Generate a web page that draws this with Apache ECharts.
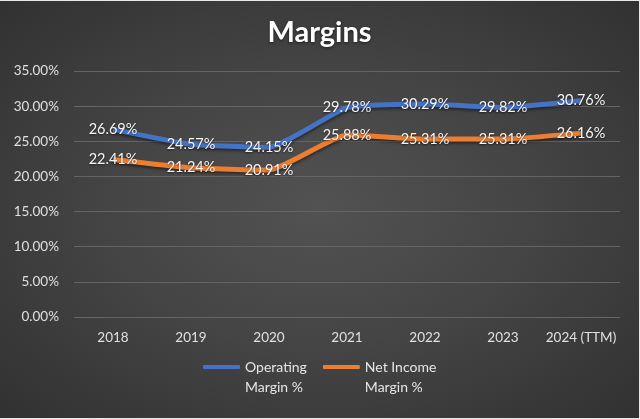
<!DOCTYPE html>
<html>
<head>
<meta charset="utf-8">
<script src="https://cdn.jsdelivr.net/npm/echarts@6/dist/echarts.min.js"></script>
<style>
html,body{margin:0;padding:0;background:#e8e8e8;}
#wrap{position:absolute;left:0;top:1px;width:639px;height:417px;
background:radial-gradient(ellipse at 50% 50%, #525252 0%, #454545 45%, #313131 100%);}
#chart{width:639px;height:417px;}
</style>
</head>
<body>
<div id="wrap"><div id="chart"></div></div>
<script>
const categories = ['2018','2019','2020','2021','2022','2023','2024 (TTM)'];
const operatingMargin = [26.69, 24.57, 24.15, 29.78, 30.29, 29.82, 30.76];
const netIncomeMargin = [22.41, 21.24, 20.91, 25.88, 25.31, 25.31, 26.16];
const seriesNames = ['Operating Margin %', 'Net Income Margin %'];
const legendLabels = {'Operating Margin %': ' \nOperating\nMargin %', 'Net Income Margin %': ' \nNet Income\nMargin %'};

const font = 'Lato, "Open Sans", sans-serif';
const chart = echarts.init(document.getElementById('chart'));
const labelCfg = {
  show: true,
  position: 'inside',
  formatter: p => p.value.toFixed(2) + '%',
  color: '#f5f5f5',
  fontSize: 14.5,
  fontFamily: font,
  textShadowColor: 'rgba(0,0,0,0.5)',
  textShadowBlur: 2,
  textShadowOffsetY: 1
};
function mk(name, data, color) {
  return {
    name: name,
    type: 'line',
    data: data,
    symbol: 'circle',
    symbolSize: 0.1,
    showSymbol: true,
    smooth: 0.15,
    lineStyle: {width: 5, color: color, shadowColor: 'rgba(0,0,0,0.45)', shadowBlur: 3, shadowOffsetY: 2},
    itemStyle: {color: color},
    label: labelCfg,
    labelLayout: {hideOverlap: false},
    emphasis: {disabled: true}
  };
}
chart.setOption({
  animation: false,
  backgroundColor: 'transparent',
  title: {
    text: 'Margins', left: 'center', top: 12,
    textStyle: {color: '#ffffff', fontSize: 29, fontWeight: 'bold', fontFamily: font,
      textShadowColor: 'rgba(0,0,0,0.6)', textShadowBlur: 3, textShadowOffsetY: 1}
  },
  grid: {left: 74, right: 19, top: 70, bottom: 101},
  legend: {
    top: 336, left: 203, padding: 0,
    itemWidth: 37, itemHeight: 4, itemGap: 16,
    icon: 'roundRect',
    formatter: n => legendLabels[n],
    textStyle: {color: '#e6e6e6', fontSize: 14, fontFamily: font, lineHeight: 20},
    data: seriesNames
  },
  xAxis: {
    type: 'category', data: categories, boundaryGap: true,
    axisLine: {show: false}, axisTick: {show: false},
    axisLabel: {color: '#e0e0e0', fontSize: 13.5, fontFamily: font, margin: 14, interval: 0}
  },
  yAxis: {
    type: 'value', min: 0, max: 35, interval: 5,
    axisLine: {show: false}, axisTick: {show: false},
    axisLabel: {color: '#e0e0e0', fontSize: 13.5, fontFamily: font, margin: 15,
      formatter: v => v.toFixed(2) + '%'},
    splitLine: {lineStyle: {color: '#646464', width: 1.2}}
  },
  series: [
    mk(seriesNames[0], operatingMargin, '#4472C4'),
    mk(seriesNames[1], netIncomeMargin, '#ED7D31')
  ]
});
</script>
</body>
</html>
